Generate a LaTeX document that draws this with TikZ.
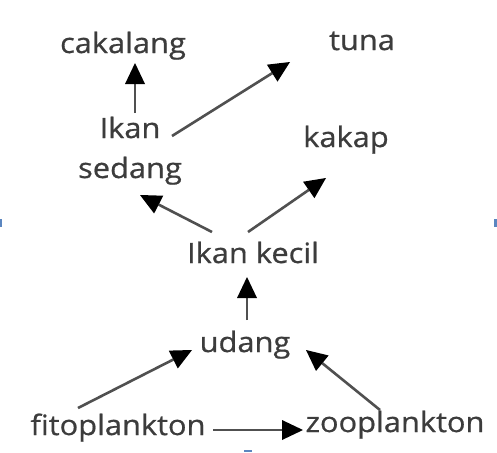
\documentclass[tikz,border=0pt]{standalone}
\usepackage{fontspec}
\setmainfont{Open Sans}[FakeStretch=1.1, FakeBold=0.7]
\usetikzlibrary{arrows.meta}
\definecolor{txtgray}{HTML}{3C3C3C}
\definecolor{linegray}{HTML}{505050}
\definecolor{tickblue}{HTML}{5B86C0}
\tikzset{
	organism/.style={anchor=base, inner sep=0pt, text=txtgray, font=\fontsize{28}{40}\selectfont},
	eats/.style={draw=linegray, line width=2.6pt, -{Triangle[width=20pt,length=21pt,fill=black,line width=0pt]}}
}

\begin{document}
\begin{tikzpicture}[x=1pt, y=-1pt]
			%%%%% START %%%%%
			
			\useasboundingbox[fill=white] (0, 0) rectangle (497, 452);
			
			\node[organism] (cakalang) at (123, 53) {cakalang};
			\node[organism] (tuna) at (362, 50) {tuna};
			\node[organism] (ikan) at (130, 138) {Ikan};
			\node[organism] (sedang) at (130, 178) {sedang};
			\node[organism] (kakap) at (346, 147) {kakap};
			\node[organism] (kecil) at (253, 263) {Ikan kecil};
			\node[organism] (udang) at (245, 352) {udang};
			\node[organism] (fito) at (118, 435) {fitoplankton};
			\node[organism] (zoo) at (395, 432) {zooplankton};
			
			\draw[eats] ([xshift=5pt, yshift=25pt]ikan.base) -- ([xshift=12pt, yshift=-10pt]cakalang.base);
			\draw[eats] ([xshift=42pt, yshift=2pt]ikan.base) -- ([xshift=-72pt, yshift=-12pt]tuna.base);
			\draw[eats] ([xshift=-41pt, yshift=31pt]kecil.base) -- ([xshift=10pt, yshift=-17pt]sedang.base);
			\draw[eats] ([xshift=-5pt, yshift=31pt]kecil.base) -- ([xshift=-20pt, yshift=-31pt]kakap.base);
			\draw[eats] ([xshift=2pt, yshift=32pt]udang.base) -- ([xshift=-6pt, yshift=-14pt]kecil.base);
			\draw[eats] ([xshift=-40pt, yshift=27pt]fito.base) -- ([xshift=-53pt, yshift=2pt]udang.base);
			\draw[eats] ([xshift=-15pt, yshift=22pt]zoo.base) -- ([xshift=61pt, yshift=2pt]udang.base);
			\draw[eats] ([xshift=95pt, yshift=5pt]fito.base) -- ([xshift=-92pt, yshift=2pt]zoo.base);
			
			\fill[tickblue] (0, 219) rectangle (2, 227);
			\fill[tickblue] (494, 219) rectangle (497, 227);
			\fill[tickblue] (244, 450) rectangle (252, 452);
			
			%%%%% END %%%%%
\end{tikzpicture}
\end{document}
